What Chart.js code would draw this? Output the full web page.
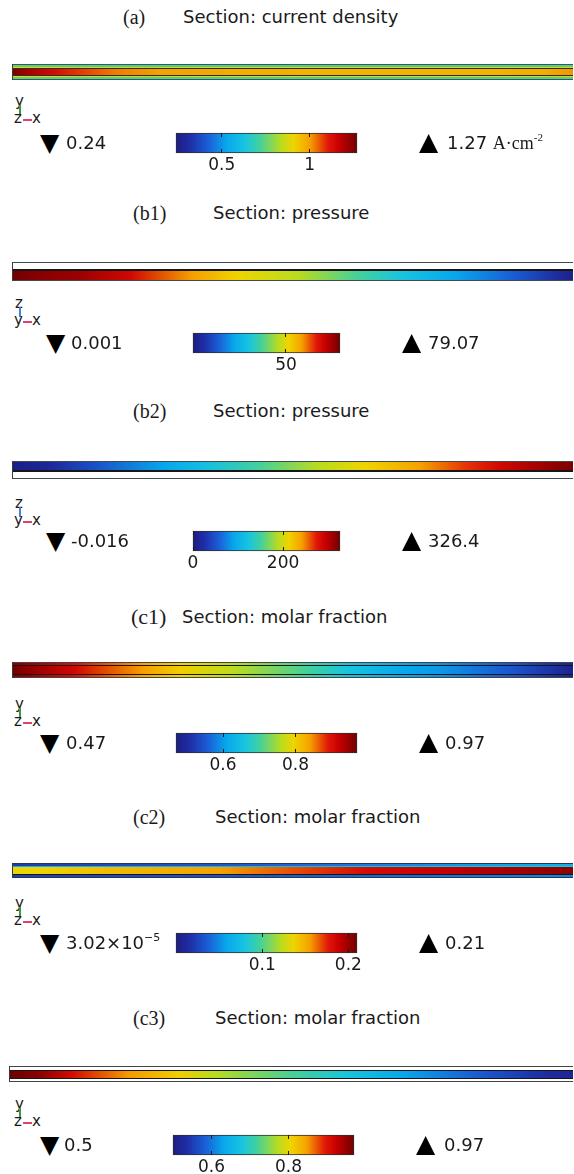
<!DOCTYPE html>
<html>
<head>
<meta charset="utf-8">
<script src="https://cdn.jsdelivr.net/npm/chart.js@4.4.1/dist/chart.umd.min.js"></script>
<style>
html, body { margin: 0; padding: 0; background: #fff; }
#page { position: relative; width: 574px; height: 1174px; overflow: hidden; font-family: 'DejaVu Sans', sans-serif; color: #1a1a1a; }
.abs { position: absolute; white-space: nowrap; }
.tag { font-family: 'Liberation Serif', serif; font-size: 20px; line-height: 24px; }
.ttl { font-size: 18px; line-height: 24px; }
.lim { font-size: 18px; line-height: 22px; }
.tri { font-size: 25px; line-height: 22px; color: #000; }
.unit { font-family: 'Liberation Serif', serif; font-size: 18px; }
sup { font-size: 11px; line-height: 0; vertical-align: 8px; }
.triad span { position: absolute; font-size: 15px; line-height: 15px; }
.triad i { position: absolute; display: block; }
canvas { position: absolute; display: block; }
</style>
</head>
<body>
<div id="page"></div>
<script>
// Colormap (COMSOL "Rainbow"-like)
const cmapStops = [
    [0.00, '#1c1c80'], [0.08, '#1f2fa8'], [0.18, '#1a60d8'], [0.28, '#08a8ec'],
    [0.38, '#18c4e0'], [0.46, '#40d0a0'], [0.58, '#b8dc20'], [0.65, '#f0d400'],
    [0.74, '#f5a000'], [0.84, '#e01808'], [0.90, '#c80000'], [1.00, '#700000']
];

// (a) current density along the cell, A/cm2
const aPos = [0, 0.03, 0.07, 0.12, 0.18, 0.26, 0.4, 0.55, 0.7, 0.85, 0.95, 1];
const aMembrane = [1.26, 1.2, 1.14, 1.08, 1.03, 1.0, 0.98, 0.97, 0.97, 0.97, 0.98, 1.01];
const aGdl = [0.74, 0.73, 0.73, 0.72, 0.72, 0.72, 0.72, 0.72, 0.72, 0.72, 0.72, 0.73];
const aCl = [0.9, 0.9, 0.89, 0.88, 0.88, 0.88, 0.88, 0.88, 0.88, 0.88, 0.88, 0.89];
const aTicks = [0.5, 1];
const aTickLabels = ['0.5', '1'];

// (b1) pressure, anode channel
const b1Pos = [0, 0.045, 0.12, 0.21, 0.32, 0.4, 0.51, 0.62, 0.695, 0.79, 0.89, 0.98, 1];
const b1Channel = [79, 77, 75, 69.5, 58.5, 51.5, 46, 36.5, 30, 22, 14, 4, 2];
const b1Ticks = [50];
const b1TickLabels = ['50'];

// (b2) pressure, cathode channel
const b2Pos = [0, 0.064, 0.142, 0.27, 0.343, 0.434, 0.544, 0.63, 0.728, 0.811, 0.87, 0.975, 1];
const b2Channel = [4, 15, 46, 91, 117, 150, 189, 212, 241, 268, 287, 317, 322];
const b2Ticks = [0, 200];
const b2TickLabels = ['0', '200'];

// (c1) molar fraction
const c1Pos = [0, 0.02, 0.11, 0.233, 0.3, 0.39, 0.53, 0.6, 0.7, 0.76, 0.89, 0.99, 1];
const c1Channel = [0.97, 0.955, 0.91, 0.84, 0.8, 0.765, 0.7, 0.66, 0.61, 0.6, 0.55, 0.49, 0.485];
const c1Gdl = [0.96, 0.95, 0.9, 0.835, 0.795, 0.76, 0.695, 0.655, 0.61, 0.595, 0.55, 0.49, 0.485];
const c1Ticks = [0.6, 0.8];
const c1TickLabels = ['0.6', '0.8'];

// (c2) molar fraction
const c2Pos = [0, 0.05, 0.175, 0.37, 0.5, 0.63, 0.79, 0.955, 1];
const c2Main = [0.135, 0.137, 0.146, 0.155, 0.168, 0.182, 0.19, 0.2, 0.203];
const c2Top = [0.022, 0.024, 0.028, 0.034, 0.04, 0.047, 0.055, 0.064, 0.066];
const c2Line = [0.066, 0.067, 0.069, 0.071, 0.073, 0.075, 0.078, 0.081, 0.082];
const c2Bottom = [0.024, 0.025, 0.028, 0.032, 0.036, 0.04, 0.044, 0.048, 0.048];
const c2Ticks = [0.1, 0.2];
const c2TickLabels = ['0.1', '0.2'];

// (c3) molar fraction
const c3Pos = [0, 0.045, 0.11, 0.21, 0.3, 0.37, 0.5, 0.6, 0.7, 0.83, 0.955, 1];
const c3Channel = [0.97, 0.96, 0.91, 0.85, 0.81, 0.77, 0.72, 0.68, 0.63, 0.58, 0.53, 0.52];
const c3Ticks = [0.6, 0.8];
const c3TickLabels = ['0.6', '0.8'];

Chart.defaults.font.family = "'DejaVu Sans', sans-serif";
Chart.defaults.color = '#1a1a1a';

function hexRgb(h) {
    return [parseInt(h.slice(1, 3), 16), parseInt(h.slice(3, 5), 16), parseInt(h.slice(5, 7), 16)];
}

function cmap(t) {
    t = Math.min(1, Math.max(0, t));
    for (let i = 1; i < cmapStops.length; i++) {
        if (t <= cmapStops[i][0]) {
            const [t0, c0] = cmapStops[i - 1];
            const [t1, c1] = cmapStops[i];
            const f = (t - t0) / (t1 - t0);
            const a = hexRgb(c0), b = hexRgb(c1);
            return `rgb(${a.map((v, k) => Math.round(v + (b[k] - v) * f)).join(',')})`;
        }
    }
    return cmapStops[cmapStops.length - 1][1];
}

// gradient along the strip, stops placed through the x scale
function profileGradient(chart, pos, vals, lo, hi) {
    const area = chart.chartArea;
    if (!area) return 'transparent';
    const xs = chart.scales.x;
    const g = chart.ctx.createLinearGradient(area.left, 0, area.right, 0);
    pos.forEach((p, i) => {
        const stop = (xs.getPixelForValue(p) - area.left) / (area.right - area.left);
        g.addColorStop(Math.min(1, Math.max(0, stop)), cmap((vals[i] - lo) / (hi - lo)));
    });
    return g;
}

function colorbarGradient(chart) {
    const area = chart.chartArea;
    if (!area) return 'transparent';
    const g = chart.ctx.createLinearGradient(area.left, 0, area.right, 0);
    cmapStops.forEach(s => g.addColorStop(s[0], s[1]));
    return g;
}

const page = document.getElementById('page');

function addEl(tag, cls, style, html) {
    const el = document.createElement(tag);
    if (cls) el.className = cls;
    Object.assign(el.style, style);
    if (html !== undefined) el.innerHTML = html;
    page.appendChild(el);
    return el;
}

function drawStrip(p) {
    const cv = addEl('canvas', '', {
        left: p.stripLeft + 'px', top: p.stripTop + 'px', borderLeft: '1px solid #3a3a3a'
    });
    let total = 0;
    p.layers.forEach(l => total += l.h);
    cv.width = 574 - p.stripLeft - 1;
    cv.height = total;

    let edge = 0;
    const datasets = [{ data: [{ x: 0, y: 0 }, { x: 1, y: 0 }], fill: false, showLine: false, pointRadius: 0 }];
    p.layers.forEach(l => {
        edge += l.h;
        datasets.push({
            data: [{ x: 0, y: edge }, { x: 1, y: edge }],
            fill: '-1',
            showLine: false,
            pointRadius: 0,
            backgroundColor: l.values ? (c => profileGradient(c.chart, p.pos, l.values, p.lo, p.hi)) : l.color
        });
    });

    new Chart(cv, {
        type: 'line',
        data: { datasets },
        options: {
            responsive: false,
            animation: false,
            events: [],
            layout: { padding: 0 },
            plugins: { legend: { display: false }, tooltip: { enabled: false } },
            scales: {
                x: { type: 'linear', min: 0, max: 1, display: false },
                y: { type: 'linear', min: 0, max: total, reverse: true, display: false }
            }
        }
    });
}

function drawColorbar(p) {
    const pad = 22;
    const cv = addEl('canvas', '', { left: (p.cbLeft - pad) + 'px', top: (p.cbTop - 1) + 'px' });
    cv.width = p.cbWidth + 2 * pad;
    cv.height = 46;
    new Chart(cv, {
        type: 'bar',
        data: {
            labels: ['range'],
            datasets: [{
                data: [[p.lo, p.hi]],
                backgroundColor: c => colorbarGradient(c.chart),
                borderColor: '#2e2e2e',
                borderWidth: 1,
                borderSkipped: false,
                barPercentage: 1,
                categoryPercentage: 1,
                clip: false
            }]
        },
        options: {
            indexAxis: 'y',
            responsive: false,
            animation: false,
            events: [],
            layout: { padding: { left: pad, right: pad, top: 1, bottom: 0 } },
            plugins: { legend: { display: false }, tooltip: { enabled: false } },
            scales: {
                x: {
                    type: 'linear',
                    min: p.lo,
                    max: p.hi,
                    position: 'bottom',
                    afterBuildTicks: s => { s.ticks = p.ticks.map(v => ({ value: v })); },
                    afterFit: s => { s.height = 25; },
                    ticks: {
                        autoSkip: false,
                        maxRotation: 0,
                        padding: 2,
                        color: '#1a1a1a',
                        font: { size: 17 },
                        callback: (v, i) => p.tickLabels[i]
                    },
                    grid: { drawOnChartArea: true, drawTicks: false, color: '#1a1a1a', lineWidth: 1, z: 1 },
                    border: { display: false, dash: [4, 12] }
                },
                y: { display: false }
            }
        }
    });
}

function drawTriad(p) {
    const t = addEl('div', 'abs triad', { left: '14px', top: p.triadTop + 'px', width: '30px', height: '34px' });
    t.innerHTML =
        `<span style="left:1px;top:0">${p.axes[0]}</span>` +
        `<i style="left:5px;top:11px;width:1.5px;height:10px;background:${p.axisColor}"></i>` +
        `<span style="left:0;top:17px">${p.axes[1]}</span>` +
        `<i style="left:9px;top:25px;width:9px;height:1.5px;background:#e0406a"></i>` +
        `<span style="left:18px;top:17px">x</span>`;
}

function drawPanel(p) {
    addEl('div', 'abs tag', { left: p.tagLeft + 'px', top: (p.titleY - 12) + 'px', fontSize: (p.tagSize || 20) + 'px' }, p.tag);
    addEl('div', 'abs ttl', { left: p.titleLeft + 'px', top: (p.titleY - 12) + 'px' }, p.title);
    drawStrip(p);
    drawTriad(p);
    drawColorbar(p);
    const mid = p.cbTop + 10 - 11;
    addEl('div', 'abs tri', { left: (p.minTri - 2) + 'px', top: mid + 'px' }, '\u25BC');
    addEl('div', 'abs lim', { left: p.minText + 'px', top: mid + 'px' }, p.minLabel);
    addEl('div', 'abs tri', { left: (p.maxTri - 2) + 'px', top: (mid - 1) + 'px' }, '\u25B2');
    addEl('div', 'abs lim', { left: p.maxText + 'px', top: mid + 'px' }, p.maxLabel);
}

const border = '#3e4a4e', black = '#161616', white = '#ffffff';

drawPanel({
    tag: '(a)', tagLeft: 123, title: 'Section: current density', titleLeft: 183, titleY: 17,
    stripLeft: 12, stripTop: 64, pos: aPos, lo: 0.24, hi: 1.27,
    layers: [
        { h: 1, color: '#3e5559' }, { h: 2, values: aGdl }, { h: 1, values: aCl }, { h: 1, color: '#3b2a12' },
        { h: 6, values: aMembrane },
        { h: 1, color: '#3b2a12' }, { h: 1, values: aCl }, { h: 2, values: aGdl }, { h: 1, color: '#3e5559' }
    ],
    triadTop: 94, axes: ['y', 'z'], axisColor: '#3c9a3c',
    cbLeft: 176, cbWidth: 181, cbTop: 133, ticks: aTicks, tickLabels: aTickLabels,
    minTri: 42, minText: 66, minLabel: '0.24',
    maxTri: 421, maxText: 447, maxLabel: '1.27 <span class="unit">A·cm<sup>-2</sup></span>'
});

drawPanel({
    tag: '(b1)', tagLeft: 133, title: 'Section: pressure', titleLeft: 213, titleY: 213,
    stripLeft: 12, stripTop: 262, pos: b1Pos, lo: 0.001, hi: 79.07,
    layers: [
        { h: 1, color: border }, { h: 6, color: white }, { h: 2, color: black },
        { h: 9, values: b1Channel }, { h: 1, color: border }
    ],
    triadTop: 296, axes: ['z', 'y'], axisColor: '#4a7fd0',
    cbLeft: 193, cbWidth: 147, cbTop: 333, ticks: b1Ticks, tickLabels: b1TickLabels,
    minTri: 48, minText: 71, minLabel: '0.001',
    maxTri: 404, maxText: 428, maxLabel: '79.07'
});

drawPanel({
    tag: '(b2)', tagLeft: 133, title: 'Section: pressure', titleLeft: 213, titleY: 411,
    stripLeft: 12, stripTop: 461, pos: b2Pos, lo: -0.016, hi: 326.4,
    layers: [
        { h: 1, color: border }, { h: 8, values: b2Channel }, { h: 2, color: black },
        { h: 6, color: white }, { h: 1, color: border }
    ],
    triadTop: 496, axes: ['z', 'y'], axisColor: '#4a7fd0',
    cbLeft: 193, cbWidth: 147, cbTop: 531, ticks: b2Ticks, tickLabels: b2TickLabels,
    minTri: 48, minText: 71, minLabel: '-0.016',
    maxTri: 404, maxText: 428, maxLabel: '326.4'
});

drawPanel({
    tag: '(c1)', tagLeft: 131, tagSize: 22, title: 'Section: molar fraction', titleLeft: 182, titleY: 617,
    stripLeft: 12, stripTop: 662, pos: c1Pos, lo: 0.47, hi: 0.97,
    layers: [
        { h: 1, color: '#444444' }, { h: 2, values: c1Gdl }, { h: 1, color: black },
        { h: 8, values: c1Channel },
        { h: 1, color: black }, { h: 2, values: c1Gdl }, { h: 1, color: '#444444' }
    ],
    triadTop: 697, axes: ['y', 'z'], axisColor: '#3c9a3c',
    cbLeft: 176, cbWidth: 181, cbTop: 733, ticks: c1Ticks, tickLabels: c1TickLabels,
    minTri: 42, minText: 66, minLabel: '0.47',
    maxTri: 421, maxText: 445, maxLabel: '0.97'
});

drawPanel({
    tag: '(c2)', tagLeft: 133, title: 'Section: molar fraction', titleLeft: 215, titleY: 817,
    stripLeft: 12, stripTop: 863, pos: c2Pos, lo: 3.02e-5, hi: 0.21,
    layers: [
        { h: 1, color: '#2c3550' }, { h: 2, values: c2Top }, { h: 1, values: c2Line },
        { h: 7, values: c2Main },
        { h: 1, color: black }, { h: 2, values: c2Bottom }, { h: 1, color: '#2c3550' }
    ],
    triadTop: 896, axes: ['y', 'z'], axisColor: '#3c9a3c',
    cbLeft: 176, cbWidth: 181, cbTop: 933, ticks: c2Ticks, tickLabels: c2TickLabels,
    minTri: 42, minText: 66, minLabel: '3.02×10<sup>−5</sup>',
    maxTri: 421, maxText: 445, maxLabel: '0.21'
});

drawPanel({
    tag: '(c3)', tagLeft: 133, title: 'Section: molar fraction', titleLeft: 215, titleY: 1018,
    stripLeft: 9, stripTop: 1066, pos: c3Pos, lo: 0.5, hi: 0.97,
    layers: [
        { h: 1, color: '#444444' }, { h: 3, color: white }, { h: 1, color: black },
        { h: 7, values: c3Channel },
        { h: 1, color: black }, { h: 2, color: white }, { h: 1, color: '#444444' }
    ],
    triadTop: 1097, axes: ['y', 'z'], axisColor: '#3c9a3c',
    cbLeft: 173, cbWidth: 181, cbTop: 1135, ticks: c3Ticks, tickLabels: c3TickLabels,
    minTri: 42, minText: 64, minLabel: '0.5',
    maxTri: 418, maxText: 444, maxLabel: '0.97'
});
</script>
</body>
</html>
